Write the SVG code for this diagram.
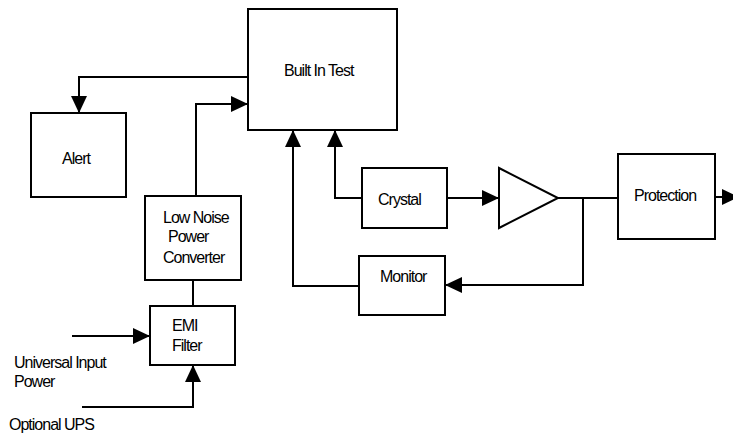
<svg xmlns="http://www.w3.org/2000/svg" width="733" height="433" viewBox="0 0 733 433">
<style>
.box{fill:#fff;stroke:#000;stroke-width:2}
.ln{fill:none;stroke:#000;stroke-width:2}
text{font-family:"Liberation Sans",Arial,sans-serif;font-size:16px;letter-spacing:-1px;fill:#000}
</style>
<defs>
<marker id="ah" markerUnits="userSpaceOnUse" markerWidth="17" markerHeight="16" refX="17" refY="8" orient="auto" viewBox="0 0 17 16">
<path d="M0,0 L17,8 L0,16 z" fill="#000"/>
</marker>
</defs>
<rect width="733" height="433" fill="#fff"/>
<g id="connectors">
<path class="ln" d="M248,77 H79 V113" marker-end="url(#ah)"/>
<path class="ln" d="M196,197 V104 H248" marker-end="url(#ah)"/>
<path class="ln" d="M359,286 H293 V130" marker-end="url(#ah)"/>
<path class="ln" d="M362,198 H335 V130" marker-end="url(#ah)"/>
<path class="ln" d="M447,198 H499" marker-end="url(#ah)"/>
<path class="ln" d="M558,198 H618"/>
<path class="ln" d="M583,198 V285 H445" marker-end="url(#ah)"/>
<path class="ln" d="M715,197 H739" marker-end="url(#ah)"/>
<path class="ln" d="M193,306 V280"/>
<path class="ln" d="M72,336 H150" marker-end="url(#ah)"/>
<path class="ln" d="M82,407 H193 V365" marker-end="url(#ah)"/>
</g>
<g id="bit"><rect class="box" x="248" y="9" width="149" height="121"/><text x="284" y="76">Built  In Test</text></g>
<g id="alert"><rect class="box" x="31" y="113" width="95" height="84"/><text x="62" y="164">Alert</text></g>
<g id="lnpc"><rect class="box" x="145" y="196" width="96" height="84"/><text x="163" y="223">Low Noise</text><text x="168" y="242">Power</text><text x="163" y="263">Converter</text></g>
<g id="emi"><rect class="box" x="150" y="306" width="85" height="59"/><text x="172" y="331">EMI</text><text x="172" y="351">Filter</text></g>
<g id="crystal"><rect class="box" x="362" y="168" width="85" height="60"/><text x="378" y="205">Crystal</text></g>
<g id="amp"><polygon class="box" points="499,168 558,198 499,228"/></g>
<g id="protection"><rect class="box" x="618" y="154" width="97" height="85"/><text x="634" y="201">Protection</text></g>
<g id="monitor"><rect class="box" x="359" y="256" width="86" height="59"/><text x="380" y="282">Monitor</text></g>
<g id="inputs"><text x="14" y="368">Universal Input</text><text x="14" y="387">Power</text><text x="9" y="430">Optional UPS</text></g>
</svg>
